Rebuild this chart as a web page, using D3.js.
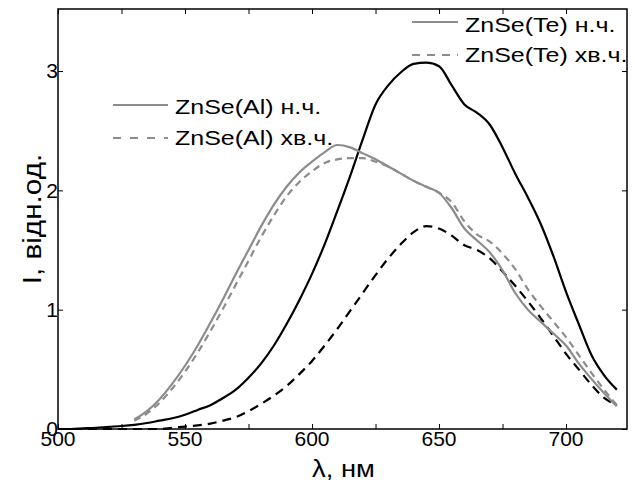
<!DOCTYPE html>
<html lang="uk">
<head>
    <meta charset="UTF-8">
    <title>ZnSe спектри</title>
    <style>
        body { margin: 0; background: #fff; }
        svg { display: block; font-family: "Liberation Sans", Arial, sans-serif; }
        .tick-label { font-size: 21px; fill: #000; }
        .legend text { font-size: 21px; fill: #000; }
    </style>
</head>
<body>
<svg id="chart" width="635" height="488"></svg>
<script src="https://d3js.org/d3.v7.min.js"></script>
<script>
    // довжини хвиль, нм
    const lambdaTe = [500, 505, 510, 515, 520, 525, 530, 535, 540, 545, 550, 555, 560, 565, 570, 575, 580, 585, 590, 595,
        600, 605, 610, 615, 620, 625, 630, 635, 640, 645, 650, 655, 660, 665, 670, 675, 680, 685, 690, 695,
        700, 705, 710, 715, 720];
    const lambdaAl = [530, 535, 540, 545, 550, 555, 560, 565, 570, 575, 580, 585, 590, 595,
        600, 605, 610, 615, 620, 625, 630, 635, 640, 645, 650, 655, 660, 665, 670, 675, 680, 685, 690, 695,
        700, 705, 710, 715, 720];

    // ZnSe(Te)
    const teNch = [0, 0, 0.005, 0.01, 0.018, 0.025, 0.035, 0.05, 0.07, 0.09, 0.12, 0.16, 0.2, 0.26, 0.33, 0.43, 0.55, 0.7, 0.88, 1.08,
        1.3, 1.55, 1.83, 2.12, 2.43, 2.72, 2.88, 2.99, 3.06, 3.07, 3.04, 2.88, 2.72, 2.65, 2.55, 2.36, 2.14, 1.94, 1.72, 1.45,
        1.15, 0.88, 0.62, 0.45, 0.33];
    const teXvch = [0, 0, 0, 0, 0, 0, 0, 0, 0, 0.01, 0.02, 0.03, 0.045, 0.07, 0.1, 0.15, 0.21, 0.28, 0.36, 0.46,
        0.57, 0.7, 0.84, 0.99, 1.14, 1.29, 1.43, 1.55, 1.65, 1.7, 1.68, 1.62, 1.54, 1.5, 1.43, 1.32, 1.2, 1.07, 0.93, 0.78,
        0.63, 0.5, 0.37, 0.26, 0.2];

    // ZnSe(Al)
    const alNch = [0.08, 0.15, 0.25, 0.38, 0.53, 0.7, 0.89, 1.09, 1.3, 1.5, 1.7, 1.88, 2.03, 2.15,
        2.24, 2.32, 2.38, 2.36, 2.31, 2.26, 2.2, 2.14, 2.08, 2.03, 1.98, 1.85, 1.68, 1.58, 1.48, 1.33, 1.14, 1.0, 0.9, 0.8,
        0.7, 0.55, 0.42, 0.3, 0.19];
    const alXvch = [0.07, 0.13, 0.22, 0.34, 0.48, 0.64, 0.82, 1.01, 1.21, 1.41, 1.61, 1.79, 1.95, 2.07,
        2.16, 2.23, 2.26, 2.27, 2.27, 2.24, 2.2, 2.14, 2.08, 2.03, 1.98, 1.9, 1.74, 1.63, 1.57, 1.47, 1.34, 1.17, 1.03, 0.9,
        0.77, 0.62, 0.47, 0.33, 0.2];

    const xTicks = [500, 550, 600, 650, 700];
    const yTicks = [0, 1, 2, 3];

    const grey = "#8c8c8c";

    const series = [
        {name: "ZnSe(Te) н.ч.", x: lambdaTe, y: teNch, color: "#000", dash: null},
        {name: "ZnSe(Te) хв.ч.", x: lambdaTe, y: teXvch, color: "#000", dash: "9,6"},
        {name: "ZnSe(Al) хв.ч.", x: lambdaAl, y: alXvch, color: grey, dash: "7,5"},
        {name: "ZnSe(Al) н.ч.", x: lambdaAl, y: alNch, color: grey, dash: null}
    ];

    const margin = {top: 9, right: 8, bottom: 59, left: 58};
    const width = 635 - margin.left - margin.right;
    const height = 488 - margin.top - margin.bottom;

    const x = d3.scaleLinear().domain([500, 724]).range([0, width]);
    const y = d3.scaleLinear().domain([0, 3.52]).range([height, 0]);

    const svg = d3.select("#chart");
    const g = svg.append("g")
        .attr("transform", "translate(" + margin.left + "," + margin.top + ")");

    // криві
    const line = d3.line().curve(d3.curveMonotoneX);
    series.forEach(s => {
        const pts = s.x.map((v, i) => [x(v), y(s.y[i])]);
        g.append("path")
            .attr("d", line(pts))
            .attr("fill", "none")
            .attr("stroke", s.color)
            .attr("stroke-width", 2.2)
            .attr("stroke-dasharray", s.dash);
    });

    // рамка
    g.append("rect")
        .attr("width", width)
        .attr("height", height)
        .attr("fill", "none")
        .attr("stroke", "#000")
        .attr("stroke-width", 1.5);

    // засічки всередину
    const minorX = d3.range(525, 724, 50);
    g.append("g").attr("transform", "translate(0," + height + ")")
        .call(d3.axisTop(x).tickValues(xTicks.concat(minorX)).tickSize(5).tickFormat(""))
        .call(a => a.select(".domain").remove());
    g.append("g")
        .call(d3.axisBottom(x).tickValues(xTicks.concat(minorX)).tickSize(5).tickFormat(""))
        .call(a => a.select(".domain").remove());
    g.append("g")
        .call(d3.axisRight(y).tickValues(yTicks).tickSize(5).tickFormat(""))
        .call(a => a.select(".domain").remove());
    g.append("g").attr("transform", "translate(" + width + ",0)")
        .call(d3.axisLeft(y).tickValues(yTicks).tickSize(5).tickFormat(""))
        .call(a => a.select(".domain").remove());

    // підписи осей
    g.selectAll(".xl").data(xTicks).enter().append("text")
        .attr("class", "tick-label")
        .attr("x", d => x(d))
        .attr("y", height + 17)
        .attr("text-anchor", "middle")
        .text(d => d);

    g.selectAll(".yl").data(yTicks).enter().append("text")
        .attr("class", "tick-label")
        .attr("x", 0)
        .attr("y", d => y(d))
        .attr("dy", "0.35em")
        .attr("text-anchor", "end")
        .text(d => d);

    // у оригіналі написи трохи розтягнуті по горизонталі
    const stretch = 1.19;

    svg.append("text")
        .attr("transform", "translate(" + (margin.left + width / 2 + 1) + ",477) scale(" + stretch + ",1)")
        .attr("text-anchor", "middle")
        .style("font-size", "23px")
        .text("λ, нм");

    svg.append("text")
        .attr("transform", "translate(41," + (margin.top + height / 2) + ") rotate(-90) scale(" + stretch + ",1)")
        .attr("text-anchor", "middle")
        .style("font-size", "25px")
        .text("І, відн.од.");

    // легенди
    const legendItems = [
        {name: "ZnSe(Te) н.ч.", x0: 412, x1: 458, ly: 22, ty: 31.5, dash: null},
        {name: "ZnSe(Te) хв.ч.", x0: 412, x1: 458, ly: 55, ty: 61.5, dash: "8,7"},
        {name: "ZnSe(Al) н.ч.", x0: 113, x1: 168, ly: 105, ty: 113.5, dash: null},
        {name: "ZnSe(Al) хв.ч.", x0: 113, x1: 168, ly: 138, ty: 144.5, dash: "8,9"}
    ];
    const legend = svg.append("g").attr("class", "legend");
    legendItems.forEach(d => {
        legend.append("line")
            .attr("x1", d.x0).attr("x2", d.x1)
            .attr("y1", d.ly).attr("y2", d.ly)
            .attr("stroke", grey)
            .attr("stroke-width", 2)
            .attr("stroke-dasharray", d.dash);
        legend.append("text")
            .attr("transform", "translate(" + (d.x1 + 7) + "," + d.ty + ") scale(" + stretch + ",1)")
            .text(d.name);
    });
</script>
</body>
</html>
